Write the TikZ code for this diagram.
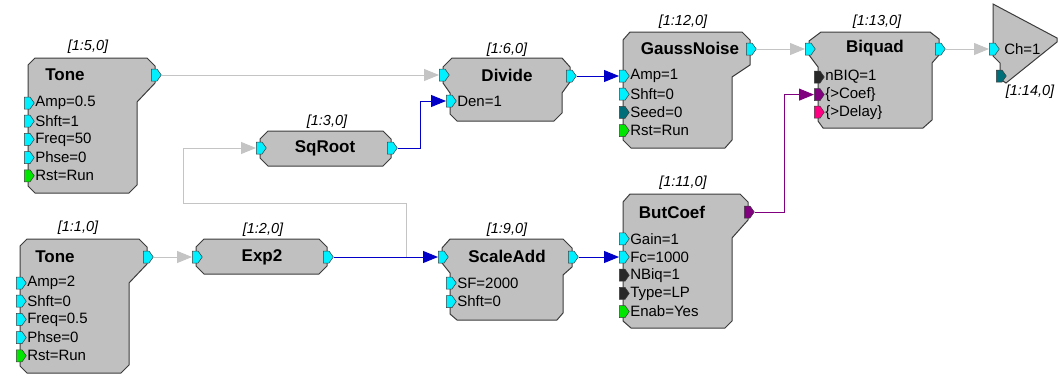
\documentclass[tikz,border=0pt]{standalone}
\usepackage{fontspec}
\setmainfont{Liberation Sans}
\usetikzlibrary{arrows.meta,positioning,shapes.symbols}
\pgfdeclarelayer{wires}
\pgfsetlayers{wires,main}
\definecolor{blockgray}{RGB}{192,192,192}
\definecolor{edgegray}{RGB}{60,60,60}
\definecolor{wiregray}{RGB}{196,196,196}
\definecolor{wireblue}{RGB}{0,0,200}
\definecolor{wirepurple}{RGB}{128,0,128}
\definecolor{pcyan}{RGB}{0,240,255}
\definecolor{pgreen}{RGB}{0,230,0}
\definecolor{pteal}{RGB}{0,110,120}
\definecolor{pdark}{RGB}{40,40,40}
\definecolor{ppink}{RGB}{255,0,130}
\begin{document}
\begin{tikzpicture}[x=1pt,y=-1pt,
    block/.style={draw=edgegray,fill=blockgray,line width=1pt,line join=miter},
    port/.style={signal,signal to=east,signal pointer angle=110,draw=edgegray,line width=0.5pt,
        fill=#1,inner sep=0pt,minimum width=10pt,minimum height=12pt,anchor=west},
    plabel/.style={font=\fontsize{15}{17}\selectfont,inner sep=0.5pt},
    title/.style={font=\bfseries\fontsize{17}{19}\selectfont,inner sep=0pt},
    idlabel/.style={font=\itshape\fontsize{14.5}{16}\selectfont,inner sep=0pt},
    wire/.style={draw=wiregray,line width=1pt,-{Triangle[length=15pt,width=12pt]}},
    bwire/.style={draw=wireblue,line width=1pt,-{Triangle[length=15pt,width=12pt]}},
    pwire/.style={draw=wirepurple,line width=1pt,-{Triangle[length=15pt,width=12pt]}}]
    \useasboundingbox (0,0) rectangle (1060,375);

    % blocks
    \draw[block,shift={(28,58)}] (7,0) -- (119,0) -- (127,8) -- (127,25) -- (109,44) -- (109,127) -- (101,135) -- (7,135) -- (0,128) -- (0,7) -- cycle;
    \draw[block,shift={(20,239)}] (7,0) -- (119,0) -- (127,8) -- (127,25) -- (109,44) -- (109,126) -- (101,134) -- (7,134) -- (0,127) -- (0,7) -- cycle;
    \draw[block,shift={(260,131)}] (8,0) -- (123,0) -- (131,8) -- (131,27) -- (123,35) -- (8,35) -- (0,27) -- (0,8) -- cycle;
    \draw[block,shift={(196,239)}] (8,0) -- (123,0) -- (131,8) -- (131,27) -- (123,35) -- (8,35) -- (0,27) -- (0,8) -- cycle;
    \draw[block,shift={(443,58)}] (9,0) -- (119,0) -- (127,9) -- (127,24) -- (119,35) -- (119,55) -- (111,63) -- (14,63) -- (7,56) -- (7,35) -- (0,25) -- (0,9) -- cycle;
    \draw[block,shift={(442,239)}] (8,0) -- (121,0) -- (130,9) -- (130,28) -- (121,36) -- (121,74) -- (115,81) -- (15,81) -- (8,75) -- (8,34) -- (0,24) -- (0,9) -- cycle;
    \draw[block,shift={(623,32)}] (7,0) -- (119,0) -- (127,8) -- (127,33) -- (109,45) -- (109,108) -- (102,116) -- (8,116) -- (0,108) -- (0,8) -- cycle;
    \draw[block,shift={(623,194)}] (7,0) -- (117,0) -- (125,8) -- (125,26) -- (109,44) -- (109,127) -- (102,134) -- (8,134) -- (0,127) -- (0,8) -- cycle;
    \draw[block,shift={(809,32)}] (12,0) -- (121,0) -- (130,7) -- (130,23) -- (123,31) -- (123,88) -- (114,96) -- (14,96) -- (9,89) -- (9,35) -- (0,23) -- (0,9) -- cycle;
    \draw[block] (993,4) -- (1057,38) -- (1057,42) -- (1006,83) -- (1000,79) -- (1000,63) -- (993,56) -- cycle; % output

    % titles and ids
    \node[title] at (65,75) {Tone};
    \node[idlabel] at (88,47) {[1:5,0]};
    \node[title] at (55,257) {Tone};
    \node[idlabel] at (78,228) {[1:1,0]};
    \node[title] at (325,148) {SqRoot};
    \node[idlabel] at (327,122) {[1:3,0]};
    \node[title] at (262,257) {Exp2};
    \node[idlabel] at (263,230) {[1:2,0]};
    \node[title] at (507,75) {Divide};
    \node[idlabel] at (507,50) {[1:6,0]};
    \node[title] at (507,256) {ScaleAdd};
    \node[idlabel] at (507,230) {[1:9,0]};
    \node[title] at (690,48) {GaussNoise};
    \node[idlabel] at (683,22) {[1:12,0]};
    \node[title] at (672,212) {ButCoef};
    \node[idlabel] at (683,183) {[1:11,0]};
    \node[title] at (875,48) {Biquad};
    \node[idlabel] at (877,22) {[1:13,0]};
    \node[idlabel] at (1030,92) {[1:14,0]};

    % ports
    \node[port=pcyan] (t5-out) at (151,75) {};
    \foreach \p/\txt/\c [count=\i from 0] in {amp/Amp=0.5/pcyan,shft/Shft=1/pcyan,freq/Freq=50/pcyan,phse/Phse=0/pcyan,rst/Rst=Run/pgreen}{
        \node[port=\c] (t5-\p) at (24,{103+18.2*\i}) {};
        \node[plabel,right=0pt of t5-\p] {\txt};
    }
    \node[port=pcyan] (t1-out) at (143,257) {};
    \foreach \p/\txt/\c [count=\i from 0] in {amp/Amp=2/pcyan,shft/Shft=0/pcyan,freq/Freq=0.5/pcyan,phse/Phse=0/pcyan,rst/Rst=Run/pgreen}{
        \node[port=\c] (t1-\p) at (16,{283+18.2*\i}) {};
        \node[plabel,right=0pt of t1-\p] {\txt};
    }
    \node[port=pcyan] (sq-in) at (256,148) {};
    \node[port=pcyan] (sq-out) at (387,148) {};
    \node[port=pcyan] (ex-in) at (192,257) {};
    \node[port=pcyan] (ex-out) at (323,257) {};
    \node[port=pcyan] (dv-in) at (439,75) {};
    \node[port=pcyan] (dv-out) at (566,76) {};
    \node[port=pcyan] (dv-den) at (446,101) {};
    \node[plabel,right=0pt of dv-den] {Den=1};
    \node[port=pcyan] (sa-in) at (438,257) {};
    \node[port=pcyan] (sa-out) at (568,257) {};
    \foreach \p/\txt/\c [count=\i from 0] in {sf/SF=2000/pcyan,shft/Shft=0/pcyan}{
        \node[port=\c] (sa-\p) at (446,{283+18.6*\i}) {};
        \node[plabel,right=0pt of sa-\p] {\txt};
    }
    \node[port=pcyan] (gn-out) at (746,49) {};
    \foreach \p/\txt/\c [count=\i from 0] in {amp/Amp=1/pcyan,shft/Shft=0/pcyan,seed/Seed=0/pteal,rst/Rst=Run/pgreen}{
        \node[port=\c] (gn-\p) at (619,{76+18.2*\i}) {};
        \node[plabel,right=0pt of gn-\p] {\txt};
    }
    \node[port=wirepurple] (bc-out) at (744,212) {};
    \foreach \p/\txt/\c [count=\i from 0] in {gain/Gain=1/pcyan,fc/Fc=1000/pcyan,nbiq/NBiq=1/pdark,type/Type=LP/pdark,enab/Enab=Yes/pgreen}{
        \node[port=\c] (bc-\p) at (619,{238.8+18.2*\i}) {};
        \node[plabel,right=0pt of bc-\p] {\txt};
    }
    \node[port=pcyan] (bq-in) at (805,49) {};
    \node[port=pcyan] (bq-out) at (935,49) {};
    \foreach \p/\txt/\c [count=\i from 0] in {nbiq/nBIQ=1/pdark,coef/\{>Coef\}/wirepurple,delay/\{>Delay\}/ppink}{
        \node[port=\c] (bq-\p) at (814,{77+17.6*\i}) {};
        \node[plabel,right=0pt of bq-\p] {\txt};
    }
    \node[port=pcyan] (ch-in) at (989,49) {};
    \node[plabel,right=4pt of ch-in] {Ch=1};
    \node[port=pteal] (ch-aux) at (996,76) {};

    % connectors
    \coordinate (tap) at (406,257);
    \begin{pgfonlayer}{wires}
        \draw[wire] (t5-out.east) -- (dv-in.west);
        \draw[wire] (t1-out.east) -- (ex-in.west);
        \draw[wire] (gn-out.east) -- (bq-in.west);
        \draw[wire] (bq-out.east) -- (ch-in.west);
        \draw[wire] (tap) |- (183,203) |- (sq-in.west);
        \draw[bwire] (ex-out.east) -- (sa-in.west);
        \draw[bwire] (sa-out.east) -- (bc-fc.west);
        \draw[bwire] (dv-out.east) -- (gn-amp.west);
        \draw[bwire] (sq-out.east) -- ++(23,0) |- (dv-den.west);
        \draw[pwire] (bc-out.east) -- ++(30,0) |- (bq-coef.west);
    \end{pgfonlayer}
\end{tikzpicture}
\end{document}
